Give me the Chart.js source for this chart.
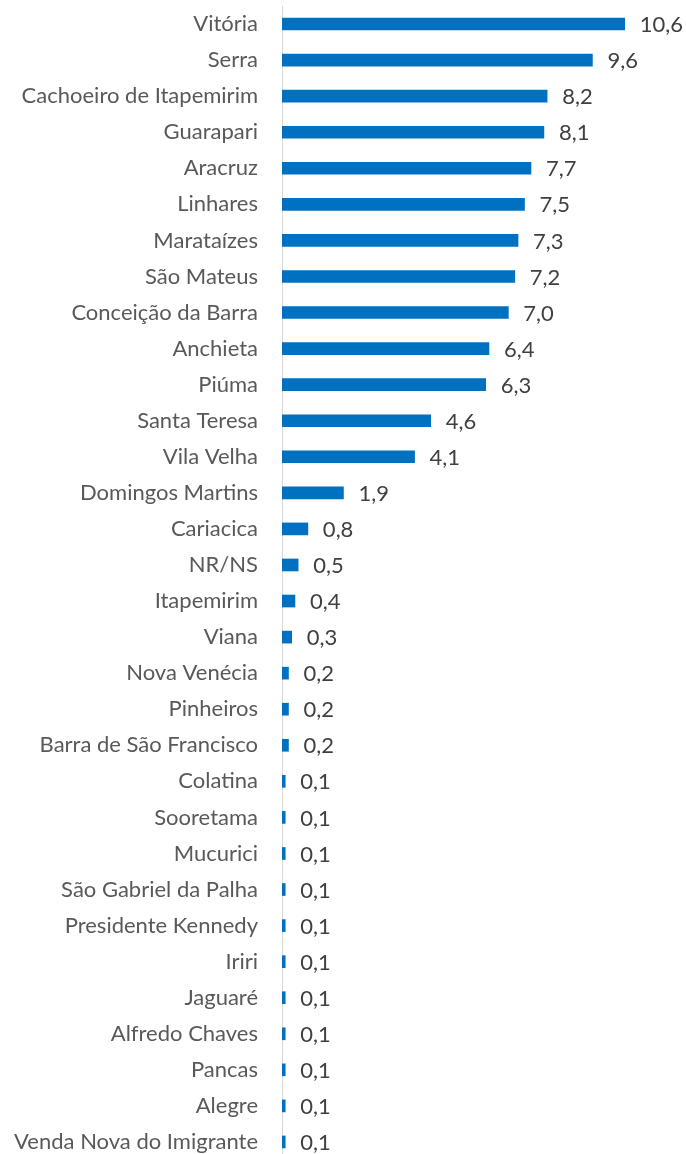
<!DOCTYPE html>
<html>
<head>
<meta charset="utf-8">
<script src="https://cdn.jsdelivr.net/npm/chart.js@4.4.1/dist/chart.umd.min.js"></script>
<style>
  html, body { margin: 0; padding: 0; background: #ffffff; overflow: hidden; }
  #wrap { width: 686px; height: 1154px; overflow: hidden; }
  canvas { display: block; }
</style>
</head>
<body>
<div id="wrap"><canvas id="c" width="686" height="1160"></canvas></div>
<script>
const categories = [
  "Vitória", "Serra", "Cachoeiro de Itapemirim", "Guarapari", "Aracruz", "Linhares",
  "Marataízes", "São Mateus", "Conceição da Barra", "Anchieta", "Piúma", "Santa Teresa",
  "Vila Velha", "Domingos Martins", "Cariacica", "NR/NS", "Itapemirim", "Viana",
  "Nova Venécia", "Pinheiros", "Barra de São Francisco", "Colatina", "Sooretama",
  "Mucurici", "São Gabriel da Palha", "Presidente Kennedy", "Iriri", "Jaguaré",
  "Alfredo Chaves", "Pancas", "Alegre", "Venda Nova do Imigrante"
];
const values = [
  10.6, 9.6, 8.2, 8.1, 7.7, 7.5,
  7.3, 7.2, 7.0, 6.4, 6.3, 4.6,
  4.1, 1.9, 0.8, 0.5, 0.4, 0.3,
  0.2, 0.2, 0.2, 0.1, 0.1,
  0.1, 0.1, 0.1, 0.1, 0.1,
  0.1, 0.1, 0.1, 0.1
];
const axisMin = 0;
const axisMax = 12;

const FONT = "Lato";
const FONT_SIZE = 22;

const valueLabelPlugin = {
  id: 'valueLabels',
  afterDatasetsDraw(chart) {
    const ctx = chart.ctx;
    const meta = chart.getDatasetMeta(0);
    ctx.save();
    ctx.font = FONT_SIZE + "px " + FONT;
    ctx.fillStyle = "#404040";
    ctx.textAlign = "left";
    ctx.textBaseline = "middle";
    meta.data.forEach((bar, i) => {
      const txt = values[i].toFixed(1).replace('.', ',');
      ctx.fillText(txt, bar.x + 15, bar.y + 1);
    });
    ctx.restore();
  }
};

new Chart(document.getElementById('c'), {
  type: 'bar',
  data: {
    labels: categories,
    datasets: [{
      data: values,
      backgroundColor: '#0070C0',
      borderWidth: 0,
      barThickness: 12
    }]
  },
  options: {
    indexAxis: 'y',
    responsive: false,
    animation: false,
    layout: { padding: { top: 6, right: 16, bottom: 0, left: 0 } },
    plugins: {
      legend: { display: false },
      tooltip: { enabled: false }
    },
    scales: {
      x: {
        display: false,
        min: axisMin,
        max: axisMax
      },
      y: {
        grid: { display: false, drawTicks: false },
        border: { display: true, color: '#D9D9D9', width: 1 },
        ticks: {
          color: '#595959',
          font: { family: FONT, size: FONT_SIZE },
          padding: 24,
          autoSkip: false
        },
        afterFit(scale) {
          scale.width = 282;
          scale.paddingTop = 0;
          scale.paddingBottom = 0;
        }
      }
    }
  },
  plugins: [valueLabelPlugin]
});
</script>
</body>
</html>
